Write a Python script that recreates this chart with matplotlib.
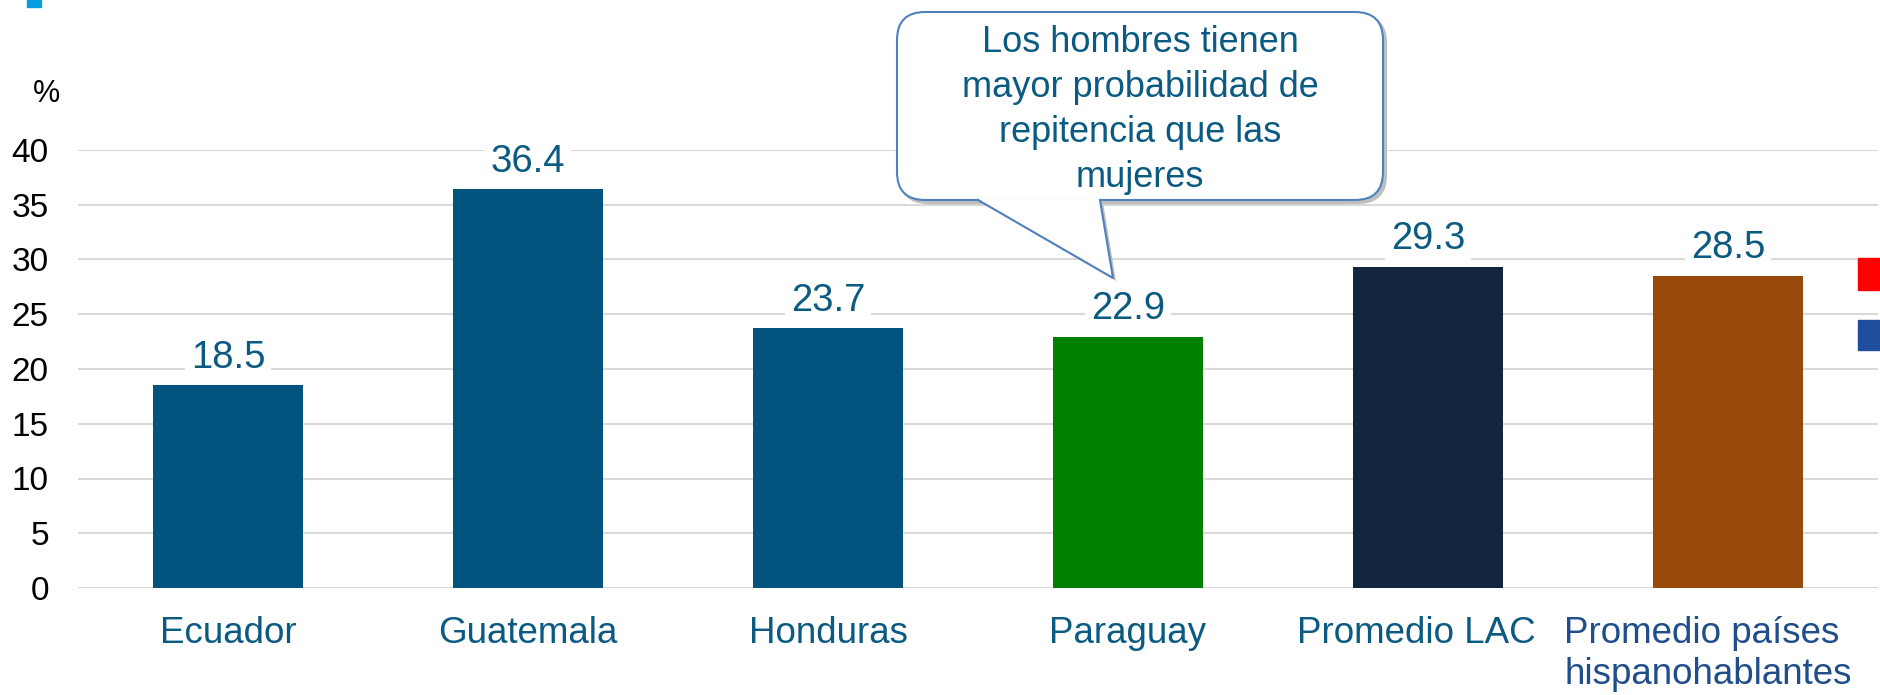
import numpy as np
import matplotlib
matplotlib.use('Agg')
import matplotlib.pyplot as plt
from matplotlib.patches import FancyBboxPatch, Polygon, Rectangle
import matplotlib.transforms as mtransforms

plt.rcParams['font.family'] = ['Liberation Sans', 'DejaVu Sans']

categorias = ['Ecuador', 'Guatemala', 'Honduras', 'Paraguay', 'Promedio LAC',
              'Promedio países\nhispanohablantes']
valores = [18.5, 36.4, 23.7, 22.9, 29.3, 28.5]
colores = ['#02547F', '#02547F', '#02547F', '#008000', '#12263F', '#974A0A']
yticks = [0, 5, 10, 15, 20, 25, 30, 35, 40]
nota = 'Los hombres tienen\nmayor probabilidad de\nrepitencia que las\nmujeres'

W, H = 1880, 695
fig = plt.figure(figsize=(W / 100, H / 100), dpi=100)
ax = fig.add_axes([78 / W, 1 - 588 / H, 1800 / W, 438 / H])

x = np.arange(len(categorias))
ax.bar(x, valores, width=0.5, color=colores, zorder=2)
ax.set_xlim(-0.5, len(categorias) - 0.5)
ax.set_ylim(0, 40)
ax.set_yticks(yticks)
ax.yaxis.grid(True, color='#D9D9D9', linewidth=1.5, zorder=0)
ax.set_axisbelow(True)
for s in ax.spines.values():
    s.set_visible(False)
ax.tick_params(axis='y', length=0, pad=21, labelsize=24, labelcolor='black')
ax.tick_params(axis='x', length=0, pad=20.5, labelsize=26.5, labelcolor='#0B5A82')
ax.set_xticks(x)
ax.set_xticklabels(categorias)
etiq = ax.get_xticklabels()
etiq[4].set_transform(etiq[4].get_transform() +
                      mtransforms.ScaledTranslation(-0.12, 0, fig.dpi_scale_trans))
last = etiq[-1]
last.set_multialignment('left')
last.set_color('#1F4E8A')
last.set_linespacing(1.2)
last.set_transform(last.get_transform() +
                   mtransforms.ScaledTranslation(-0.2, 0, fig.dpi_scale_trans))

# etiquetas de valores
for xi, v in zip(x, valores):
    ax.annotate(f'{v:.1f}', (xi, v), xytext=(0, 20), textcoords='offset points',
                ha='center', va='center', fontsize=27.5, color='#0B5A82', zorder=3,
                bbox=dict(boxstyle='square,pad=0.15', fc='white', ec='none'))

# capa en pixeles para anotaciones
ov = fig.add_axes([0, 0, 1, 1])
ov.set_xlim(0, W)
ov.set_ylim(H, 0)
ov.axis('off')

ov.text(47, 94, '%', ha='center', va='center', fontsize=22, color='black')

# cuadros de leyenda recortados
ov.add_patch(Rectangle((27, -5), 14, 12, color='#0A9BE0'))
ov.add_patch(Rectangle((1858, 258), 30, 32, color='#FF0000'))
ov.add_patch(Rectangle((1858, 320), 30, 30, color='#1F4E9E'))

# globo de texto
bx0, by0, bx1, by1 = 897, 12, 1383, 200
for off, fc, ec in [(3, '#BFBFBF', '#BFBFBF'), (0, 'white', '#4F81BD')]:
    ov.add_patch(FancyBboxPatch((bx0 + off, by0 + off), bx1 - bx0, by1 - by0,
                                boxstyle='round,pad=0,rounding_size=28',
                                fc=fc, ec=ec, lw=1.5, zorder=4 if off == 0 else 3))
tip = (1113, 278)
ov.add_patch(Polygon([(978 + 3, by1 + 2), (tip[0] + 3, tip[1] + 3), (1100 + 3, by1 + 2)],
                     closed=True, fc='#BFBFBF', ec='none', zorder=3))
ov.add_patch(Polygon([(978, by1 - 1), tip, (1100, by1 - 1)], closed=True,
                     fc='white', ec='none', zorder=5))
ov.plot([978, tip[0], 1100], [by1, tip[1], by1], color='#4F81BD', lw=1.5, zorder=6)
ov.text(1140, 110, nota, ha='center', va='center', fontsize=26, color='#0B5A82',
        linespacing=1.36, zorder=7)

fig.savefig('out.png', dpi=100)
